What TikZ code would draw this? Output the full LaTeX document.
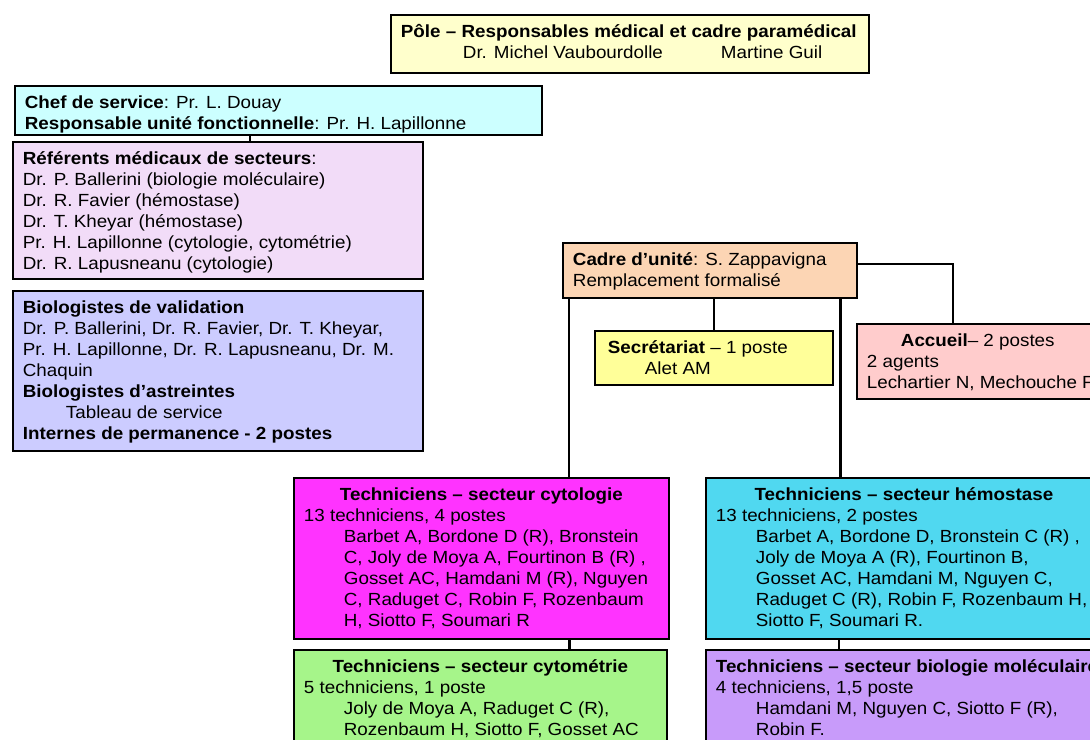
\documentclass[tikz,border=0pt]{standalone}
\usepackage{fontspec}
\setmainfont[FakeStretch=1.07]{Liberation Sans}
\usepackage{xcolor}
\definecolor{jaunepale}{RGB}{255,255,204}
\definecolor{cyanpale}{RGB}{204,255,255}
\definecolor{rosepale}{RGB}{242,220,248}
\definecolor{lavande}{RGB}{204,204,255}
\definecolor{peche}{RGB}{252,213,180}
\definecolor{jaunevif}{RGB}{255,255,153}
\definecolor{rosesaumon}{RGB}{255,204,204}
\definecolor{fuchsia}{RGB}{255,51,255}
\definecolor{turquoise}{RGB}{80,216,240}
\definecolor{vertclair}{RGB}{166,245,138}
\definecolor{mauve}{RGB}{200,155,250}
\usepackage{tikz}
\usetikzlibrary{positioning, calc}

\newdimen\unitpx \unitpx=0.025cm
% contenu d'une boite : largeur, hauteur (px), texte
\newcommand{\contenu}[3]{\parbox[c][\dimexpr #2\unitpx-16\unitpx\relax][t]{\dimexpr #1\unitpx-20\unitpx\relax}{\raggedright\strut #3}}
\newcommand{\retrait}{\hspace*{40\unitpx}}
\newcommand{\titre}[1]{\makebox[\linewidth]{\textbf{#1}}}

\begin{document}
\begin{tikzpicture}[x=0.025cm, y=-0.025cm,
    font=\fontsize{12.5}{14.94}\selectfont,
    boite/.style={draw, line width=1.3pt, anchor=north west, inner xsep=10\unitpx, inner ysep=8\unitpx},
    lien/.style={line width=2pt}]
    \useasboundingbox (0,0) rectangle (1090,740);
    \clip (0,0) rectangle (1090,740);
    \fill[white] (0,0) rectangle (1090,740);

    % Pole
    \node[boite, fill=jaunepale] (pole) at (390,14) {\contenu{478}{58}{\textbf{Pôle – Responsables médical et cadre paramédical}\\
        \hspace*{62\unitpx}Dr. Michel Vaubourdolle\hspace{58\unitpx}Martine Guil}};

    % Colonne de gauche
    \node[boite, fill=cyanpale] (chef) at (14,85) {\contenu{527}{49}{\textbf{Chef de service}: Pr. L. Douay\\
        \textbf{Responsable unité fonctionnelle}: Pr. H. Lapillonne}};
    \node[boite, fill=rosepale] (referents) at (12,141) {\contenu{410}{137}{\textbf{Référents médicaux de secteurs}:\\
        Dr. P. Ballerini (biologie moléculaire)\\
        Dr. R. Favier (hémostase)\\
        Dr. T. Kheyar (hémostase)\\
        Pr. H. Lapillonne (cytologie, cytométrie)\\
        Dr. R. Lapusneanu (cytologie)}};
    \node[boite, fill=lavande] (biologistes) at (12,290) {\contenu{410}{160}{\textbf{Biologistes de validation}\\
        Dr. P. Ballerini, Dr. R. Favier, Dr. T. Kheyar,\\
        Pr. H. Lapillonne, Dr. R. Lapusneanu, Dr. M.\\
        Chaquin\\
        \textbf{Biologistes d'astreintes}\\
        \hspace*{43\unitpx}Tableau de service\\
        \textbf{Internes de permanence - 2 postes}}};

    % Cadre et services
    \node[boite, fill=peche] (cadre) at (562,242) {\contenu{294}{55}{\textbf{Cadre d'unité}: S. Zappavigna\\
        Remplacement formalisé}};
    \node[boite, fill=jaunevif] (secretariat) at (594,330) {\contenu{238}{54}{\hspace*{3\unitpx}\textbf{Secrétariat} – 1 poste\\
        \retrait Alet AM}};
    \node[boite, fill=rosesaumon] (accueil) at (856,323) {\contenu{260}{75}{\hspace*{34\unitpx}\textbf{Accueil}– 2 postes\\
        2 agents\\
        Lechartier N, Mechouche F}};

    % Techniciens
    \node[boite, fill=fuchsia] (cytologie) at (293,477) {\contenu{375}{161}{\titre{Techniciens – secteur cytologie}\\
        13 techniciens, 4 postes\\
        \retrait Barbet A, Bordone D (R), Bronstein\\
        \retrait C, Joly de Moya A, Fourtinon B (R) ,\\
        \retrait Gosset AC, Hamdani M (R), Nguyen\\
        \retrait C, Raduget C, Robin F, Rozenbaum\\
        \retrait H, Siotto F, Soumari R}};
    \node[boite, fill=turquoise] (hemostase) at (705,477) {\contenu{396}{161}{\titre{Techniciens – secteur hémostase}\\
        13 techniciens, 2 postes\\
        \retrait Barbet A, Bordone D, Bronstein C (R) ,\\
        \retrait Joly de Moya A (R), Fourtinon B,\\
        \retrait Gosset AC, Hamdani M, Nguyen C,\\
        \retrait Raduget C (R), Robin F, Rozenbaum H,\\
        \retrait Siotto F, Soumari R.}};
    \node[boite, fill=vertclair] (cytometrie) at (293,649) {\contenu{373}{110}{\titre{Techniciens – secteur cytométrie}\\
        5 techniciens, 1 poste\\
        \retrait Joly de Moya A, Raduget C (R),\\
        \retrait Rozenbaum H, Siotto F, Gosset AC}};
    \node[boite, fill=mauve] (biomol) at (705,649) {\contenu{396}{110}{\mbox{\textbf{Techniciens – secteur biologie moléculaire}}\\
        4 techniciens, 1,5 poste\\
        \retrait Hamdani M, Nguyen C, Siotto F (R),\\
        \retrait Robin F.}};

    % Liens
    \draw[lien] ($(chef.south west)+(236,0)$) coordinate (c1) -- (c1 |- referents.north);
    \draw[lien] (secretariat.north) -- (secretariat.north |- cadre.south);
    \draw[lien] ($(cadre.north east)+(0,22)$) -| ($(accueil.north west)+(97,0)$);
    \draw[lien] ($(cadre.south west)+(7,0)$) coordinate (c2) -- (c2 |- cytologie.north);
    \draw[lien] ($(cadre.south east)+(-17,0)$) coordinate (c3) -- (c3 |- hemostase.north);
    \draw[lien] ($(cytologie.south east)+(-100,0)$) coordinate (c4) -- (c4 |- cytometrie.north);
    \draw[lien] ($(hemostase.south west)+(134,0)$) coordinate (c5) -- (c5 |- biomol.north);
\end{tikzpicture}
\end{document}
